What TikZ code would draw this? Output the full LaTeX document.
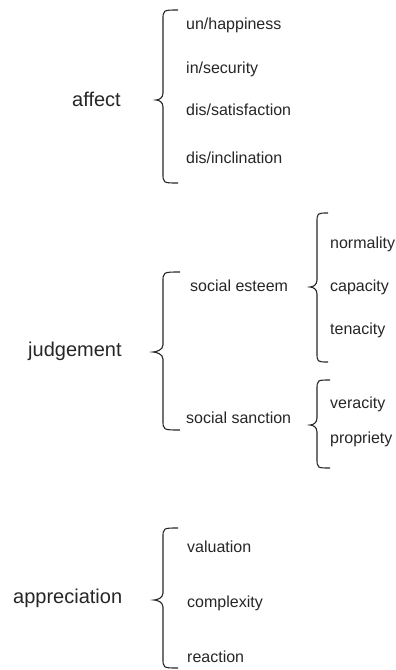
\documentclass[tikz,border=0pt]{standalone}
\usepackage{fontspec}
\setmainfont{Liberation Sans}
\newcommand\mybrace[6]{% #1 xv, #2 xe, #3 xt, #4 ytop, #5 ytip, #6 ybot
  \draw[bracestyle] (#2,#4) .. controls (#1,#4) .. (#1,#4+10) -- (#1,#5-7)
    .. controls (#1,#5-2) and (#3+3,#5) .. (#3,#5)
    .. controls (#3+3,#5) and (#1,#5+2) .. (#1,#5+7) -- (#1,#6-10)
    .. controls (#1,#6) .. (#2,#6);}
\begin{document}
\begin{tikzpicture}[x=1pt,y=-1pt,
  bracestyle/.style={draw=black!85, line width=1.1pt},
  mainlab/.style={anchor=base west, inner sep=0pt, text=black!85, font=\fontsize{20}{22}\selectfont},
  sublab/.style={anchor=base west, inner sep=0pt, text=black!85, font=\fontsize{16}{18}\selectfont}]
\useasboundingbox (0,0) rectangle (396,670);
% affect
\node[mainlab] (affect) at (72,106.5) {affect};
\node[sublab] (a1) at (186,29) {un/happiness};
\node[sublab] (a2) at (186,73) {in/security};
\node[sublab] (a3) at (186,115) {dis/satisfaction};
\node[sublab] (a4) at (186,163) {dis/inclination};
\mybrace{163}{178}{156}{10}{100}{183}
% judgement
\node[mainlab] (judg) at (28,356.5) {judgement};
\node[sublab] (se) at (190,291) {social esteem};
\node[sublab] (ss) at (186,423) {social sanction};
\mybrace{163}{180}{153}{272}{352}{430}
\node[sublab] (j1) at (330,248) {normality};
\node[sublab] (j2) at (330,291) {capacity};
\node[sublab] (j3) at (330,334) {tenacity};
\mybrace{317}{328}{310}{213}{287}{362}
\node[sublab] (j4) at (330,408) {veracity};
\node[sublab] (j5) at (330,443) {propriety};
\mybrace{317}{330}{310}{380}{425}{468}
% appreciation
\node[mainlab] (appr) at (13,603.5) {appreciation};
\node[sublab] (p1) at (187,552) {valuation};
\node[sublab] (p2) at (187,607) {complexity};
\node[sublab] (p3) at (187,662) {reaction};
\mybrace{163}{178}{154}{528}{600}{668}
\end{tikzpicture}
\end{document}
